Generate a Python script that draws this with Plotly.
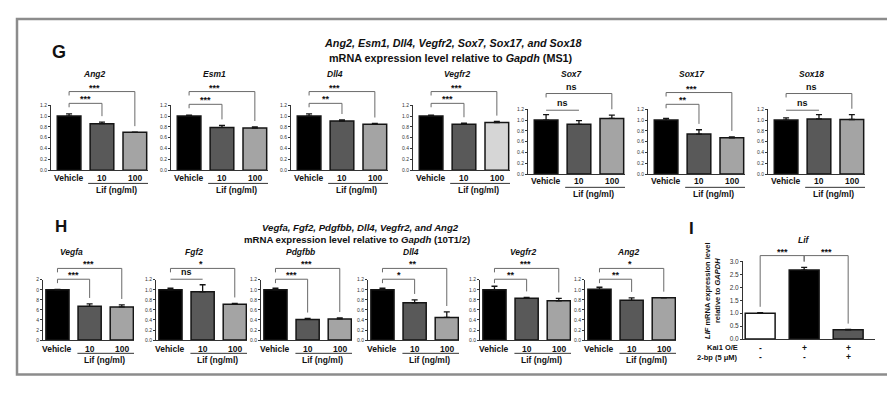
import plotly.graph_objects as go

FONT = "Liberation Sans, Arial, Helvetica, sans-serif"
W, H = 895, 394

# ---------------- data ----------------
groups = ["Vehicle", "10", "100"]

# Panel G (MS1)
g_genes = ["Ang2", "Esm1", "Dll4", "Vegfr2", "Sox7", "Sox17", "Sox18"]
g_vehicle = [1.00, 1.00, 1.00, 1.00, 1.00, 1.00, 1.00]
g_lif10 = [0.86, 0.79, 0.91, 0.85, 0.92, 0.74, 1.02]
g_lif100 = [0.70, 0.78, 0.85, 0.88, 1.03, 0.67, 1.01]
g_vehicle_err = [0.04, 0.02, 0.04, 0.02, 0.10, 0.03, 0.04]
g_lif10_err = [0.03, 0.04, 0.02, 0.02, 0.07, 0.08, 0.08]
g_lif100_err = [0.005, 0.02, 0.015, 0.02, 0.06, 0.02, 0.09]
g_sig_inner = ["***", "***", "**", "***", "ns", "**", "ns"]
g_sig_outer = ["***", "***", "***", "***", "ns", "***", "ns"]

# Panel H (10T1/2)
h_genes = ["Vegfa", "Fgf2", "Pdgfbb", "Dll4", "Vegfr2", "Ang2"]
h_vehicle = [1.00, 1.00, 1.00, 1.00, 1.00, 1.01]
h_lif10 = [0.67, 0.96, 0.41, 0.74, 0.83, 0.79]
h_lif100 = [0.66, 0.71, 0.42, 0.45, 0.78, 0.84]
h_vehicle_err = [0.01, 0.03, 0.03, 0.03, 0.07, 0.04]
h_lif10_err = [0.05, 0.14, 0.02, 0.06, 0.02, 0.05]
h_lif100_err = [0.04, 0.02, 0.02, 0.11, 0.05, 0.005]
h_sig_inner = ["***", "ns", "***", "*", "**", "**"]
h_sig_outer = ["***", "*", "***", "**", "***", "*"]

y_ticks = [0.0, 0.2, 0.4, 0.6, 0.8, 1.0, 1.2]
vegfa_ticktext = ["0", "2", "4", "6", "8", "0", "2"]   # cropped labels as printed

# Panel I
i_values = [1.00, 2.67, 0.36]
i_errs = [0.02, 0.10, 0.01]
i_kai1 = ["-", "+", "+"]
i_2bp = ["-", "-", "+"]
i_ticks = [0.0, 0.5, 1.0, 1.5, 2.0, 2.5, 3.0]

# ---------------- styling / geometry ----------------
C_VEH, C_10, C_100 = "#000000", "#595959", "#a4a4a4"
C_LIGHT = "#d6d6d6"
AX = "#333333"
BR = "#6a6a6a"
TXT = "#111111"


def fx(p):
    return p / W


def fy(p):
    return 1 - p / H


fig = go.Figure()
layout = dict(
    width=W, height=H, margin=dict(l=0, r=0, t=0, b=0),
    paper_bgcolor="white", plot_bgcolor="rgba(0,0,0,0)",
    showlegend=False, font=dict(family=FONT, color=TXT),
)
annotations = []
shapes = []
NP = 14  # number of panels


def ann(text, x, y, size, xref="paper", yref="paper", xanchor="center", yanchor="middle", **kw):
    annotations.append(dict(text=text, x=x, y=y, xref=xref, yref=yref, showarrow=False,
                            xanchor=xanchor, yanchor=yanchor,
                            font=dict(family=FONT, size=size, color=TXT), **kw))


def panel(k, means, errs, colors, x0, width, y0, unit, xr, barw, btop,
          ticktext=None, vals_fs=5, ymax=1.2, tickvals=y_ticks):
    xa, ya, yb = f"xaxis{k}", f"yaxis{k}", f"yaxis{NP + k}"
    xs, ys, ybs = f"x{k}", f"y{k}", f"y{NP + k}"
    layout[xa] = dict(domain=[fx(x0), fx(x0 + width)], range=xr, anchor=ys,
                      showline=True, linecolor=AX, linewidth=1.2, ticks="",
                      showticklabels=False, showgrid=False, zeroline=False, fixedrange=True)
    layout[ya] = dict(domain=[fy(y0), fy(y0 - ymax * unit)], range=[0, ymax], anchor=xs,
                      showline=True, linecolor=AX, linewidth=1, ticks="outside",
                      ticklen=2, tickwidth=0.8, tickcolor=AX, tickvals=tickvals,
                      tickfont=dict(size=vals_fs, family=FONT, color="#333"),
                      showgrid=False, zeroline=False, fixedrange=True)
    if ticktext is not None:
        layout[ya]["ticktext"] = ticktext
    else:
        layout[ya]["tickformat"] = ".1f"
    layout[yb] = dict(domain=[fy(y0), fy(btop)], range=[0, (y0 - btop) / unit],
                      anchor=xs, visible=False, fixedrange=True)
    fig.add_trace(go.Bar(
        x=[0, 1, 2], y=means, width=barw, xaxis=xs, yaxis=ys,
        marker=dict(color=colors, line=dict(color="#151515", width=1.5)),
        error_y=dict(type="data", array=errs, arrayminus=[0, 0, 0], symmetric=False,
                     color="#151515", thickness=1.3, width=3),
        hoverinfo="skip"))

    gap = 6 / unit
    short = 4 / unit
    tops = [m + e for m, e in zip(means, errs)]

    def bracket(a, b, level_px, text, tx, flat=False, short_left=True):
        lv = (y0 - level_px) / unit
        if flat:
            bx, by = [a, b], [lv, lv]
        else:
            la = lv - short if short_left else min(tops[a] + gap, lv - short)
            lb = min(tops[b] + gap, lv - short)
            bx, by = [a, a, b, b], [la, lv, lv, lb]
        fig.add_trace(go.Scatter(x=bx, y=by, mode="lines", xaxis=xs, yaxis=ybs,
                                 line=dict(color=BR, width=1), hoverinfo="skip"))
        is_ns = text == "ns"
        ann(f"<b>{text}</b>", tx, lv, 9, xref=xs, yref=ybs,
            yanchor="bottom", yshift=(0 if is_ns else -3))

    return xs, ys, ybs, bracket


# ---------------- Panel G ----------------
G_X0 = [43, 163, 283, 405, 520, 640, 760]
G_Y0 = [161, 161, 161, 161, 165, 165, 165]
G_OUTER = [81, 81, 81, 81, 83, 82, 83]
G_INNER = [93, 94, 93, 93, 100, 94, 100]
G_TITLE = 63
G_UNIT = 55.0
for i, gene in enumerate(g_genes):
    k = i + 1
    y0 = G_Y0[i]
    c100 = C_LIGHT if gene == "Vegfr2" else C_100
    means = [g_vehicle[i], g_lif10[i], g_lif100[i]]
    errs = [g_vehicle_err[i], g_lif10_err[i], g_lif100_err[i]]
    xs, ys, ybs, bracket = panel(
        k, means, errs, [C_VEH, C_10, c100], G_X0[i], 97, y0, G_UNIT,
        [-0.55, 2.4], 0.72, G_TITLE + 2)
    flat = g_sig_inner[i] == "ns"
    bracket(0, 1, G_INNER[i], g_sig_inner[i], 0.5, flat=flat)
    bracket(0, 2, G_OUTER[i], g_sig_outer[i], 0.78)
    ann(f"<b><i>{gene}</i></b>", 0.78, fy(G_TITLE), 8.5, xref=xs)
    for j, g in enumerate(groups):
        ann(f"<b>{g}</b>", j, fy(y0 + 7.5), 8.5, xref=xs)
    shapes.append(dict(type="line", xref=xs, yref="paper", x0=0.58, x1=2.4,
                       y0=fy(y0 + 13.5), y1=fy(y0 + 13.5), line=dict(color=AX, width=1)))
    ann("<b>Lif (ng/ml)</b>", 1.45, fy(y0 + 20.5), 8.5, xref=xs)

# ---------------- Panel H ----------------
H_X0 = [35, 148, 253, 360, 472, 577]
H_Y0 = 334
H_UNIT = 51.2
H_TITLE_X = [0.45, 0.72, 0.78, 0.9, 0.88, 0.9]
for i, gene in enumerate(h_genes):
    k = 8 + i
    y12 = H_Y0 - 1.2 * H_UNIT
    means = [h_vehicle[i], h_lif10[i], h_lif100[i]]
    errs = [h_vehicle_err[i], h_lif10_err[i], h_lif100_err[i]]
    xs, ys, ybs, bracket = panel(
        k, means, errs, [C_VEH, C_10, C_100], H_X0[i], 91, H_Y0, H_UNIT,
        [-0.45, 2.38], 0.72, y12 - 25,
        ticktext=vegfa_ticktext if gene == "Vegfa" else None)
    flat = h_sig_inner[i] == "ns"
    bracket(0, 1, y12 - 0.5, h_sig_inner[i], 0.5, flat=flat)
    bracket(0, 2, y12 - 11.5, h_sig_outer[i], 0.95)
    ann(f"<b><i>{gene}</i></b>", H_TITLE_X[i], fy(y12 - 28.5), 8.5, xref=xs)
    for j, g in enumerate(groups):
        ann(f"<b>{g}</b>", j, fy(H_Y0 + 9), 8.5, xref=xs)
    shapes.append(dict(type="line", xref=xs, yref="paper", x0=0.62, x1=2.38,
                       y0=fy(H_Y0 + 13.5), y1=fy(H_Y0 + 13.5), line=dict(color=AX, width=1)))
    ann("<b>Lif (ng/ml)</b>", 1.45, fy(H_Y0 + 20.5), 8.5, xref=xs)

# ---------------- Panel I ----------------
k = 14
I_Y0 = 333
I_UNIT = 26.33
xs, ys, ybs, bracket = panel(
    k, i_values, i_errs, ["#ffffff", "#000000", "#595959"],
    735, 132, I_Y0, I_UNIT, [-0.39, 2.61], 0.68, 236,
    vals_fs=6.5, ymax=3.0, tickvals=i_ticks)
bracket(0, 1, 248, "***", 0.5, short_left=False)
bracket(1, 2, 248, "***", 1.5, short_left=False)
ann("<b><i>Lif</i></b>", 1.0, fy(232), 8.5, xref=xs)
ann("<b><i>LIF</i> mRNA expression level<br>relative to <i>GAPDH</i></b>", fx(705), fy(284),
    7.5, textangle=-90)
ann("<b>Kai1 O/E</b>", fx(732), fy(342), 7.5, xanchor="right")
ann("<b>2-bp (5 μM)</b>", fx(732), fy(351.5), 7.5, xanchor="right")
for j in range(3):
    ann(f"<b>{i_kai1[j]}</b>", j, fy(342), 8.5, xref=xs)
    ann(f"<b>{i_2bp[j]}</b>", j, fy(351.5), 8.5, xref=xs)

# ---------------- headings ----------------
ann("<b>G</b>", fx(51), fy(41), 18)
ann("<b>H</b>", fx(53), fy(218), 17)
ann("<b>I</b>", fx(683), fy(220), 17)
ann("<b><i>Ang2, Esm1, Dll4, Vegfr2, Sox7, Sox17, and Sox18</i></b>", fx(444), fy(32), 10.8)
ann("<b>mRNA expression level relative to <i>Gapdh</i> (MS1)</b>", fx(443), fy(47), 10.8)
ann("<b><i>Vegfa, Fgf2, Pdgfbb, Dll4, Vegfr2, and Ang2</i></b>", fx(352), fy(219), 9.6)
ann("<b>mRNA expression level relative to <i>Gapdh</i> (10T1/2)</b>", fx(349), fy(232), 9.6)

# outer frame
shapes.append(dict(type="rect", xref="paper", yref="paper", x0=fx(9), x1=fx(884),
                   y0=fy(369), y1=fy(7), line=dict(color="#8c8c8c", width=2.5), layer="below"))

layout["annotations"] = annotations
layout["shapes"] = shapes
fig.update_layout(**layout)
fig.write_html("out.html")
